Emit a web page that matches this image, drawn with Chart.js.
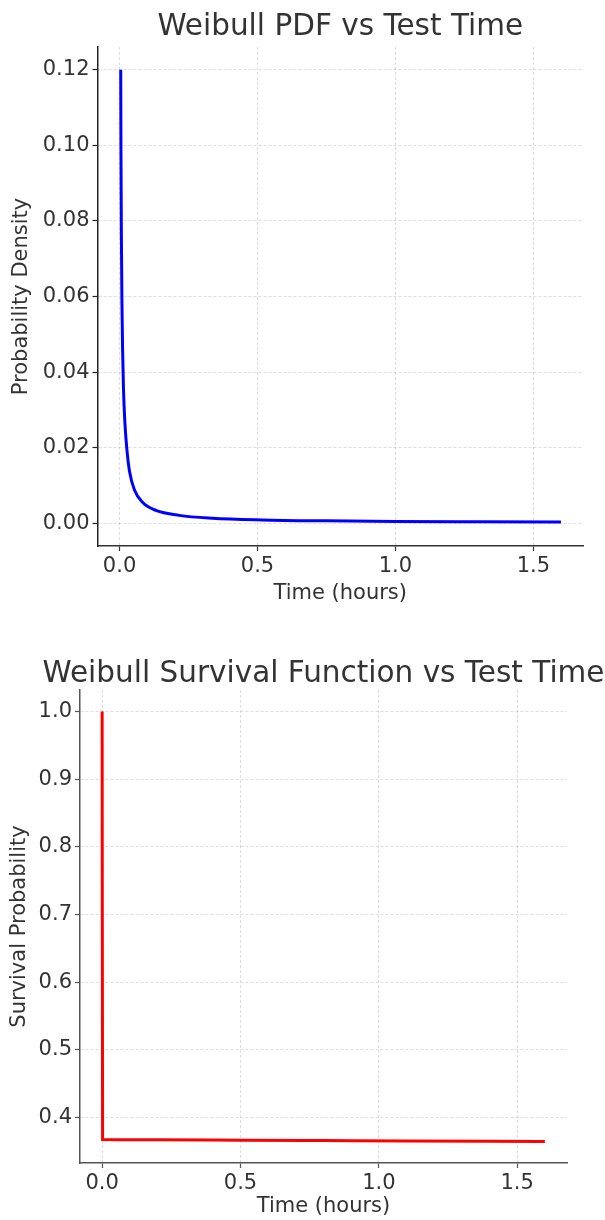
<!DOCTYPE html>
<html lang="en">
<head>
    <meta charset="UTF-8">
    <title>Weibull PDF and Survival Function vs Test Time</title>
    <script src="https://cdn.jsdelivr.net/npm/chart.js"></script>
    <style>
        html, body { margin: 0; padding: 0; background: #FFFFFF; }
        body { width: 605px; height: 1220px; position: relative; overflow: hidden; }
        canvas { position: absolute; left: 0; }
        #pdfChart { top: 0; }
        #survChart { top: 610px; }
    </style>
</head>
<body>
    <canvas id="pdfChart" width="605" height="610"></canvas>
    <canvas id="survChart" width="605" height="610"></canvas>

<script>
    // Data
    const pdfTime = [0.0042, 0.005, 0.0065, 0.0085, 0.011, 0.014, 0.019, 0.0266, 0.036, 0.054, 0.084, 0.132, 0.216, 0.336, 0.516, 0.75, 1.0, 1.3, 1.6];
    const pdfDensity = [0.12, 0.1, 0.077, 0.059, 0.046, 0.036, 0.027, 0.0195, 0.0138, 0.0088, 0.0055, 0.0034, 0.0021, 0.00135, 0.0009, 0.00065, 0.0005, 0.00042, 0.00036];

    const survTime = [0, 0.0016, 0.2, 0.5, 0.8, 1.1, 1.4, 1.6];
    const survProb = [1.0, 0.3675, 0.3671, 0.3664, 0.3658, 0.3652, 0.3647, 0.3645];

    const timeTicks = [0.0, 0.5, 1.0, 1.5];
    const pdfTicks = [0.00, 0.02, 0.04, 0.06, 0.08, 0.10, 0.12];
    const survTicks = [0.4, 0.5, 0.6, 0.7, 0.8, 0.9, 1.0];

    const font = '"DejaVu Sans", "Liberation Sans", sans-serif';
    const textColor = '#333333';
    const gridColor = 'rgba(0, 0, 0, 0.13)';

    Chart.defaults.font.family = font;
    Chart.defaults.color = textColor;

    // Title drawn centred over the plot area (matplotlib style)
    const plotTitle = {
        id: 'plotTitle',
        afterDraw(chart, args, opts) {
            const { ctx, chartArea } = chart;
            ctx.save();
            ctx.font = `${opts.size}px ${font}`;
            ctx.fillStyle = textColor;
            ctx.textAlign = 'center';
            ctx.textBaseline = 'middle';
            ctx.fillText(opts.text, (chartArea.left + chartArea.right) / 2, opts.y);
            ctx.restore();
        }
    };

    function toPoints(xs, ys) {
        return xs.map((x, i) => ({ x: x, y: ys[i] }));
    }

    function axis(cfg) {
        return {
            type: 'linear',
            min: cfg.min,
            max: cfg.max,
            afterBuildTicks: s => { s.ticks = cfg.ticks.map(v => ({ value: v })); },
            afterFit: cfg.fit,
            ticks: {
                callback: v => v.toFixed(cfg.digits),
                font: { size: 21 },
                color: textColor,
                padding: 3
            },
            grid: {
                color: gridColor,
                lineWidth: 1,
                tickColor: cfg.spine,
                tickLength: 5,
                tickWidth: 1.2
            },
            border: { display: true, color: cfg.spine, width: 1.5, dash: [3, 2] },
            title: {
                display: true,
                text: cfg.title,
                font: { size: 21 },
                color: textColor,
                padding: cfg.titlePad
            }
        };
    }

    function makeChart(id, opts) {
        return new Chart(document.getElementById(id), {
            type: 'line',
            data: {
                datasets: [{
                    data: toPoints(opts.xs, opts.ys),
                    borderColor: opts.color,
                    borderWidth: 3,
                    pointRadius: 0,
                    cubicInterpolationMode: 'monotone',
                    fill: false
                }]
            },
            options: {
                responsive: false,
                animation: false,
                devicePixelRatio: 1,
                layout: { padding: opts.padding },
                plugins: {
                    legend: { display: false },
                    tooltip: { enabled: false },
                    plotTitle: { text: opts.title, y: opts.titleY, size: 29.5 }
                },
                scales: { x: opts.x, y: opts.y }
            },
            plugins: [plotTitle]
        });
    }

    // Chart 1: Weibull PDF
    makeChart('pdfChart', {
        xs: pdfTime, ys: pdfDensity, color: '#0000FF',
        title: 'Weibull PDF vs Test Time', titleY: 27,
        padding: { top: 47, right: 22, left: 0, bottom: 0 },
        x: axis({ min: -0.08, max: 1.68, ticks: timeTicks, digits: 1, title: 'Time (hours)', spine: '#333333',
                  titlePad: { top: 0, bottom: 4 }, fit: s => { s.height = 64; } }),
        y: axis({ min: -0.006, max: 0.126, ticks: pdfTicks, digits: 2, title: 'Probability Density', spine: '#222222',
                  titlePad: { top: 9, bottom: 0 }, fit: s => { s.width = 97.5; } })
    });

    // Chart 2: Weibull survival function
    makeChart('survChart', {
        xs: survTime, ys: survProb, color: '#FF0000',
        title: 'Weibull Survival Function vs Test Time', titleY: 64,
        padding: { top: 80, right: 38, left: 0, bottom: 0 },
        x: axis({ min: -0.08, max: 1.68, ticks: timeTicks, digits: 1, title: 'Time (hours)', spine: '#555555',
                  titlePad: { top: 0, bottom: 1 }, fit: s => { s.height = 57; } }),
        y: axis({ min: 0.3327, max: 1.0318, ticks: survTicks, digits: 1, title: 'Survival Probability', spine: '#555555',
                  titlePad: { top: 7, bottom: 0 }, fit: s => { s.width = 80; } })
    });
</script>
</body>
</html>
